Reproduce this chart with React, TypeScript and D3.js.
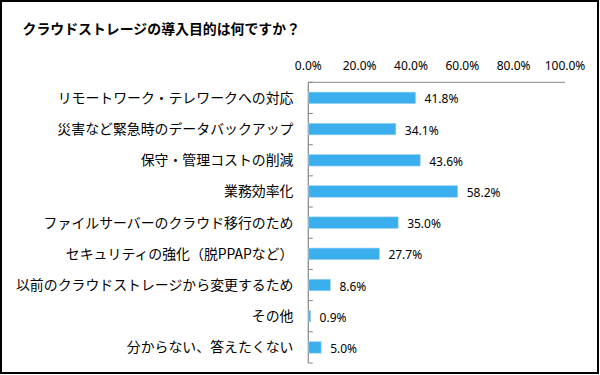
import React from "react";
import * as d3 from "d3";

const title = "クラウドストレージの導入目的は何ですか？";
const categories = [
  "リモートワーク・テレワークへの対応",
  "災害など緊急時のデータバックアップ",
  "保守・管理コストの削減",
  "業務効率化",
  "ファイルサーバーのクラウド移行のため",
  "セキュリティの強化（脱PPAPなど）",
  "以前のクラウドストレージから変更するため",
  "その他",
  "分からない、答えたくない",
];
const values = [41.8, 34.1, 43.6, 58.2, 35.0, 27.7, 8.6, 0.9, 5.0];
const tickValues = [0, 20, 40, 60, 80, 100];

const W = 600;
const H = 375;
const left = 308.3;
const right = 565;
const top = 82.3;
const bottom = 363;

export default function App() {
  const x = d3.scaleLinear().domain([0, 100]).range([left, right]);
  const y = d3.scaleBand<string>().domain(categories).range([top, bottom]).paddingInner(0.63).paddingOuter(0.315);
  const band = (bottom - top) / categories.length;
  const axisColor = "#868686";
  const jp = "'Noto Sans CJK JP', 'Noto Sans', sans-serif";
  const num = "'Noto Sans', sans-serif";
  return (
    <div style={{ position: "absolute", left: 0, top: 0 }}>
      <svg width={W} height={H} style={{ display: "block", background: "#fff" }}>
        <rect x={1} y={1} width={597} height={372} fill="#fff" stroke="#000" strokeWidth={2} />
        <text x={22.5} y={28} fontFamily={jp} fontWeight="bold" fontSize={13.9} dominantBaseline="central" fill="#000">
          {title}
        </text>
        {tickValues.map((t) => (
          <text key={t} x={x(t)} y={65} textAnchor="middle" dominantBaseline="central" fontFamily={num} fontSize={12} fill="#000">
            {t.toFixed(1)}%
          </text>
        ))}
        <line x1={left} x2={right} y1={top} y2={top} stroke={axisColor} strokeWidth={1} />
        <line x1={left} x2={left} y1={top} y2={bottom} stroke={axisColor} strokeWidth={1.2} />
        {d3.range(categories.length + 1).map((i) => (
          <line key={i} x1={left} x2={left + 4.5} y1={top + i * band} y2={top + i * band} stroke={axisColor} strokeWidth={1} />
        ))}
        {categories.map((c, i) => {
          const yy = y(c)!;
          const cy = yy + y.bandwidth() / 2;
          return (
            <g key={c}>
              <text x={293.5} y={cy - 1} textAnchor="end" dominantBaseline="central" fontFamily={jp} fontSize={13.9} fill="#000">
                {c}
              </text>
              <rect x={left + 0.5} y={yy} width={x(values[i]) - left - 0.5} height={y.bandwidth()} fill="#3BAEEE" stroke="#9dd6f5" strokeWidth={0.6} />
              <text x={x(values[i]) + 9} y={cy + 1} dominantBaseline="central" fontFamily={num} fontSize={12} fill="#000">
                {values[i].toFixed(1)}%
              </text>
            </g>
          );
        })}
      </svg>
    </div>
  );
}
